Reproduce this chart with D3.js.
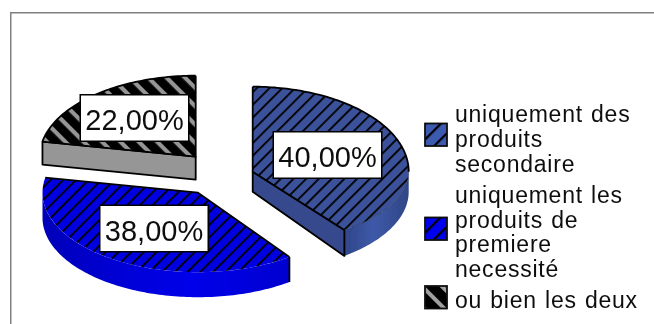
<!DOCTYPE html>
<html><head><meta charset="utf-8">
<script src="https://cdnjs.cloudflare.com/ajax/libs/d3/7.8.5/d3.min.js"></script>
<style>html,body{margin:0;padding:0;background:#fff}svg{display:block}</style>
</head><body><svg id="c" width="654" height="324"></svg>
<script>
const categories = ["uniquement des produits secondaire","uniquement les produits de premiere necessité","ou bien les deux"];
const values = [40,38,22];
const valueLabels = ["40,00%","38,00%","22,00%"];
const legendLines = [["uniquement des","produits","secondaire"],["uniquement les","produits de","premiere","necessité"],["ou bien les deux"]];

// layout, per slice (perspective makes each exploded slice differ slightly)
const layout = [
 {cx:252.7,cy:171.7,rx:156,ryT:85,ryB:72,dBack:20,dFront:26,top:"url(#h0)",wall:"url(#w0)",side:"#34498c",label:[327.5,155]},
 {cx:198,cy:192.7,rx:155.5,ryT:80,ryB:79.5,dBack:25,dFront:25,top:"url(#h1)",wall:"url(#w1)",side:"#0000d8",label:[154,228.5]},
 {cx:195.7,cy:156.7,rx:156,ryT:81,ryB:75,dBack:23,dFront:23,top:"url(#h2)",wall:"#969696",side:"#969696",label:[134.5,118]}
];
const legendSwatch = [{y:123.5,f:"url(#l0)"},{y:217.5,f:"url(#l1)"},{y:286,f:"url(#l2)"}];
const legendBase = [122,202.7,308];

const svg = d3.select("#c");
const defs = svg.append("defs");
defs.append("filter").attr("id","soft").attr("x",0).attr("y",0).attr("width","100%").attr("height","100%")
  .append("feGaussianBlur").attr("stdDeviation",0.45);

function hatch(id,bg,size,sw,angle,offset){
  const p=defs.append("pattern").attr("id",id).attr("patternUnits","userSpaceOnUse")
    .attr("width",size).attr("height",size).attr("patternTransform",`translate(${offset||0},0) rotate(${angle})`);
  p.append("rect").attr("width",size).attr("height",size).attr("fill",bg);
  p.append("rect").attr("width",sw).attr("height",size).attr("fill","#000");
}
hatch("h0","#3a5199",9,1.8,45,0);
hatch("h1","#0000e0",9,1.8,45,0);
hatch("h2","#969696",13,8.8,-45,0);
hatch("l0","#3a5ab0",11,2.2,45,3);
hatch("l1","#0000f0",11,2.2,45,3);
hatch("l2","#a0a0a0",14,10,-45,0);

function grad(id,stops){
  const g=defs.append("linearGradient").attr("id",id);
  stops.forEach(s=>g.append("stop").attr("offset",s[0]).attr("stop-color",s[1]));
}
grad("w0",[[0,"#30468a"],[0.45,"#3e59a8"],[1,"#2f4686"]]);
grad("w1",[[0,"#0000b8"],[0.3,"#0000d4"],[0.6,"#0000ea"],[1,"#0000d0"]]);

const pie = d3.pie().sort(null).value(d=>d)(values);
const root = svg.append("g").attr("filter","url(#soft)");

// open frame: top and left edges only, running off the picture
root.append("path").attr("d","M654,12.5H10.5V324").attr("fill","none").attr("stroke","#808080").attr("stroke-width",2);

function depth(L,a){ const c=Math.cos(a); return c>=0?L.dBack:L.dBack+(L.dFront-L.dBack)*Math.min(1,-c/0.809); }
function pt(L,a,drop){
  const c=Math.cos(a),ry=c>=0?L.ryT:L.ryB;
  return [L.cx+L.rx*Math.sin(a), L.cy-ry*c+(drop?depth(L,a):0)];
}
function arcPts(L,a0,a1,drop){
  const n=Math.max(2,Math.ceil(Math.abs(a1-a0)/0.02)),out=[];
  for(let i=0;i<=n;i++) out.push(pt(L,a0+(a1-a0)*i/n,drop));
  return out;
}
const line=d3.line();
const HALF=Math.PI/2;
const black=s=>s.attr("stroke","#000").attr("stroke-width",1.8).attr("stroke-linejoin","round");

// draw order: back slice first
[2,0,1].forEach(i=>{
  const L=layout[i],s=pie[i],g=root.append("g");
  const a0=s.startAngle,a1=s.endAngle;
  const w0=Math.max(a0,HALF),w1=Math.min(a1,3*HALF);
  if(w1>w0){
    const pts=arcPts(L,w0,w1,false).concat(arcPts(L,w1,w0,true));
    g.append("path").attr("d",line(pts)+"Z").attr("fill",L.wall);
  }
  const A=[L.cx,L.cy];
  if(i==0||i==2){
    const a=i==0?a1:a0, E=pt(L,a),Ed=pt(L,a,true);
    black(g.append("path").attr("d",line([A,E,Ed,[L.cx,L.cy+L.dBack]])+"Z").attr("fill",L.side));
  }
  if(i==1){
    black(g.append("path").attr("d",line([pt(L,a0),pt(L,a0,true)])));
  }
  g.append("path").attr("d",line([A].concat(arcPts(L,a0,a1,false)))+"Z").attr("fill",L.top);
  const rim=black(g.append("g").attr("fill","none"));
  rim.append("path").attr("d",line([pt(L,a0),A,pt(L,a1)]));
  // rim outlined only along the back part
  if(i==0) rim.append("path").attr("d",line(arcPts(L,a0,HALF,false)));
  if(i==2) rim.append("path").attr("d",line(arcPts(L,a0,a1,false)));
  if(i==0) g.append("path").attr("d",line(arcPts(L,HALF,a1,false))).attr("fill","none").attr("stroke","#000").attr("stroke-opacity",0.3).attr("stroke-width",1);
});

// data labels
valueLabels.forEach((t,i)=>{
  const [x,y]=layout[i].label, w=108.5,h=46.5;
  root.append("rect").attr("x",x-w/2).attr("y",y-h/2).attr("width",w).attr("height",h)
    .attr("fill","#fff").attr("stroke","#000").attr("stroke-width",1.5);
  root.append("text").attr("x",x).attr("y",y+12).attr("text-anchor","middle")
    .attr("font-family","Liberation Sans").attr("font-size",29).attr("fill","#111").text(t);
});

// legend
const lh=24.8;
legendLines.forEach((lines,i)=>{
  root.append("rect").attr("x",425).attr("y",legendSwatch[i].y).attr("width",22).attr("height",22.5)
    .attr("fill",legendSwatch[i].f).attr("stroke","#111").attr("stroke-width",1.8);
  lines.forEach((t,j)=>{
    root.append("text").attr("x",455).attr("y",legendBase[i]+j*lh)
      .attr("font-family","Liberation Sans").attr("font-size",23).attr("letter-spacing",0.77).attr("word-spacing",1)
      .attr("fill","#111").text(t);
  });
});
</script></body></html>
